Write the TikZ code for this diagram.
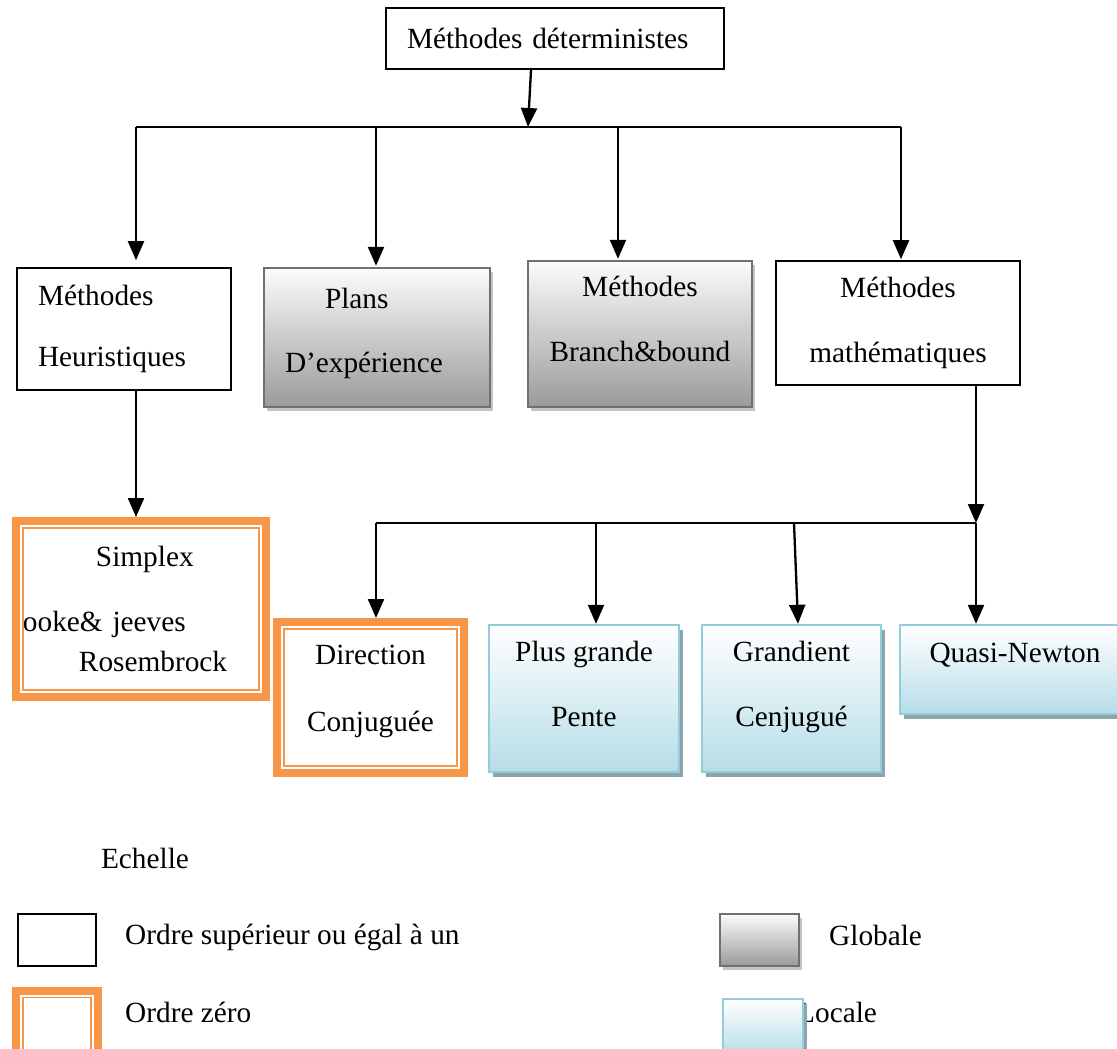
\documentclass[tikz,border=0pt]{standalone}
\usepackage{fontspec}
\setmainfont{Liberation Serif}
\usetikzlibrary{positioning,calc,arrows.meta,shadows}

\definecolor{orangeZ}{HTML}{F79646}
\definecolor{grisB}{HTML}{707070}
\definecolor{grisH}{HTML}{FCFCFC}
\definecolor{grisF}{HTML}{9A9A9A}
\definecolor{grisO}{HTML}{C4C4C4}
\definecolor{bleuB}{HTML}{92CDDC}
\definecolor{bleuF}{HTML}{B6DDE8}
\definecolor{bleuO}{HTML}{8FA3AA}

\begin{document}
\begin{tikzpicture}[x=1pt, y=-1pt, >={Triangle[length=19pt,width=16pt]},
    every node/.style={font=\fontsize{29.3}{35}\selectfont},
    deux/.style={font=\fontsize{29.3}{65}\selectfont, align=center},
    ordre1/.style={draw, line width=1.6pt, fill=white},
    ordre0/.style={draw=orangeZ, line width=8pt, fill=white,
      path picture={\draw[orangeZ, line width=1.6pt]
        ([shift={(7pt,-7pt)}]path picture bounding box.north west) rectangle
        ([shift={(-7pt,7pt)}]path picture bounding box.south east);}},
    globale/.style={draw=grisB, line width=2.4pt, top color=grisH, bottom color=grisF,
      drop shadow={shadow xshift=3pt, shadow yshift=-4pt, fill=grisO, opacity=1}},
    locale/.style={draw=bleuB, line width=2.4pt, top color=white, bottom color=bleuF,
      drop shadow={shadow xshift=4pt, shadow yshift=-5pt, fill=bleuO, opacity=1}},
    fl/.style={->, line width=2.3pt}]
    \useasboundingbox[fill=white] (0,0) rectangle (1117,1049);
    % racine
    \node[ordre1, minimum width=338pt, minimum height=61pt, text width=296pt, align=left] (det) at (555,38.5) {Méthodes déterministes};
    % familles
    \node[ordre1, font=\fontsize{29.3}{61}\selectfont, align=left, text width=172pt, minimum width=214pt, minimum height=122pt] (heur) at (124,329) {Méthodes\\Heuristiques};
    \node[globale, font=\fontsize{29.3}{64}\selectfont, align=left, text width=184pt, text depth=78pt, minimum width=226pt, minimum height=139pt] (plans) at (377,337.5) {\hspace*{40pt}Plans\\D’expérience};
    \node[globale, deux, text depth=30pt, minimum width=224pt, minimum height=146pt] (bb) at (640,334) {Méthodes\\Branch\&bound};
    \node[ordre1, deux, minimum width=244pt, minimum height=124pt] (math) at (898,323) {Méthodes\\mathématiques};
    % methodes
    \node[ordre0, align=left, text width=236pt, inner xsep=5pt, minimum width=250pt, minimum height=176pt] (simplex) at (141,609) {\hspace*{73pt}Simplex\\[30pt]ooke\& jeeves\\[5pt]\hspace*{56pt}Rosembrock};
    \node[ordre0, font=\fontsize{29.3}{67}\selectfont, align=center, text depth=19pt, minimum width=187pt, minimum height=151pt] (dirc) at (370.5,697.5) {Direction\\Conjuguée};
    \node[locale, deux, text depth=29pt, minimum width=190pt, minimum height=147pt] (plus) at (584,698.5) {Plus grande\\Pente};
    \node[locale, deux, text depth=29pt, minimum width=179pt, minimum height=147pt] (gradc) at (791.5,698.5) {Grandient\\Cenjugué};
    \node[locale, text depth=33pt, minimum width=230pt, minimum height=89pt] (quasi) at (1015,669.5) {Quasi-Newton};
    % liaisons
    \coordinate (j0) at (528,127);
    \draw[fl] ([xshift=-24pt]det.south) -- (j0);
    \foreach \x/\n/\s in {136/heur/7, 376/plans/1, 618/bb/1, 901/math/1} {
      \coordinate (h\n) at (\x,127);
      \draw[fl, shorten >=\s pt] (h\n) -- (h\n |- \n.north);
    }
    \draw[line width=2.3pt] (hheur) -- (hmath);
    \draw[fl] (hheur |- heur.south) -- (hheur |- simplex.north);
    \coordinate (c0) at (976,523);
    \coordinate (c1) at (376,523);
    \coordinate (c2) at (596,523);
    \coordinate (c3) at (794,523);
    \draw[fl] (c0 |- math.south) -- (c0);
    \draw[line width=2.3pt] (c1) -- (c0);
    \draw[fl] (c1) -- (c1 |- dirc.north);
    \draw[fl] (c2) -- (c2 |- plus.north);
    \draw[fl] (c3) -- ([xshift=6.5pt]gradc.north);
    \draw[fl] (c0) -- (c0 |- quasi.north);
    % echelle
    \node (ech) at (145,858) {Echelle};
    \node[ordre1, minimum width=78pt, minimum height=52pt] (leg1) at (57,940) {};
    \node[anchor=west, inner sep=0] (t1) at (125,937) {Ordre supérieur ou égal à un};
    \node[ordre0, minimum width=82pt, minimum height=69pt] (leg2) at (57,1025) {};
    \node[anchor=west, inner sep=0] (t2) at (125,1012) {Ordre zéro};
    \node[globale, minimum width=79pt, minimum height=52pt] (leg3) at (759.5,940) {};
    \node[anchor=west, inner sep=0] (t3) at (829,935) {Globale};
    \node[anchor=west, inner sep=0] (t4) at (797,1012) {Locale};
    \node[locale, minimum width=80pt, minimum height=56pt] (leg4) at (763,1027) {};
  \end{tikzpicture}
\end{document}
